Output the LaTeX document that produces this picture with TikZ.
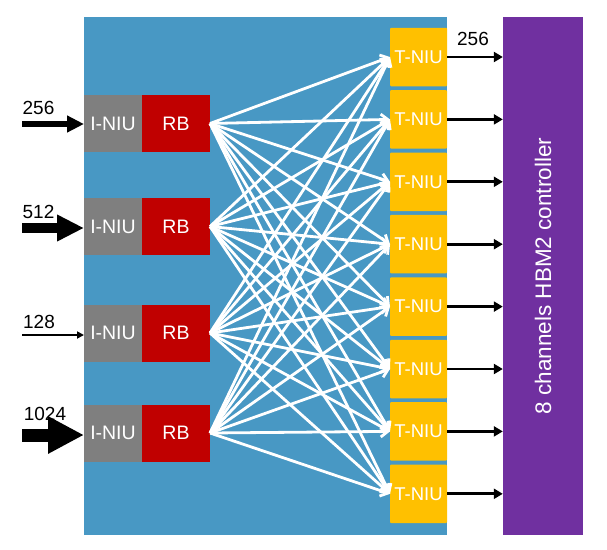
\documentclass[tikz,border=0pt]{standalone}
\usepackage{fontspec}
\setmainfont{Liberation Sans}
\usetikzlibrary{arrows.meta}
\definecolor{bgblue}{RGB}{72,152,196}
\definecolor{niugray}{RGB}{127,127,127}
\definecolor{rbred}{RGB}{192,0,0}
\definecolor{tniuyel}{RGB}{255,192,0}
\definecolor{hbmpurple}{RGB}{112,48,160}
\begin{document}
\begin{tikzpicture}[x=1pt,y=-1pt,
 box/.style={inner sep=0pt, outer sep=0pt, text=white, font=\fontsize{19.5}{19.5}\selectfont},
 iniu/.style={box, fill=niugray, minimum width=58pt, minimum height=57pt},
 rb/.style={box, fill=rbred, minimum width=68pt, minimum height=57pt},
 tniubox/.style={box, fill=tniuyel, minimum width=57pt, minimum height=58.5pt, rounded corners=1pt, font=\fontsize{18.5}{18.5}\selectfont},
 lbl/.style={font=\fontsize{19}{19}\selectfont, inner sep=0pt},
 fan/.style={white, line width=2.8pt, -{Straight Barb[length=7pt,width=11pt]}},
 hbmarrow/.style={black, line width=2.8pt, -{Triangle[length=9pt,width=10pt]}},
]
\useasboundingbox (0,0) rectangle (607,549);
\fill[bgblue] (84,17) rectangle (447,535);
% HBM controller
\node[fill=hbmpurple, rotate=90, minimum width=518pt, minimum height=80pt, inner sep=0pt, text=white, font=\fontsize{22.5}{22.5}\selectfont] (hbm) at (543,276) {8 channels HBM2 controller};
% input rows
\foreach \i/\y in {1/123.5, 2/226.5, 3/333, 4/433} {
  \node[iniu] (i\i) at (113,\y) {I-NIU};
  \node[rb] (r\i) at (176,\y) {RB};
}
% T-NIU boxes
\foreach \k in {1,...,8} {
  \pgfmathsetmacro{\ty}{57+62.4*(\k-1)}
  \node[tniubox] (t\k) at (418.5,\ty) {T-NIU};
}
% crossbar
\foreach \i in {1,...,4} {
  \foreach \k in {1,...,8} {
    \draw[fan] (r\i.east) -- (t\k.west);
  }
}
% outputs
\foreach \k in {1,...,8} {
  \draw[hbmarrow] (t\k.east) -- (t\k.east -| hbm.north);
}
\node[lbl] (o256) at (473,38.5) {256};
% inputs
\coordinate (s1) at (22,124);
\coordinate (s2) at (22,228);
\coordinate (s3) at (22,335);
\coordinate (s4) at (22,435);
\draw[line width=6pt, -{Triangle[length=17pt,width=16pt]}] (s1) -- (s1 -| i1.west);
\draw[line width=10pt, -{Triangle[length=27pt,width=25pt]}] (s2) -- (s2 -| i2.west);
\draw[line width=1.8pt, -{Triangle[length=7pt,width=7pt]}] (s3) -- (s3 -| i3.west);
\draw[line width=13pt, -{Triangle[length=36pt,width=35pt]}] (s4) -- (s4 -| i4.west);
\node[lbl] (l1) at (38.5,107.5) {256};
\node[lbl] (l2) at (38.5,212) {512};
\node[lbl] (l3) at (39,321.5) {128};
\node[lbl] (l4) at (45,413.5) {1024};
\end{tikzpicture}
\end{document}
